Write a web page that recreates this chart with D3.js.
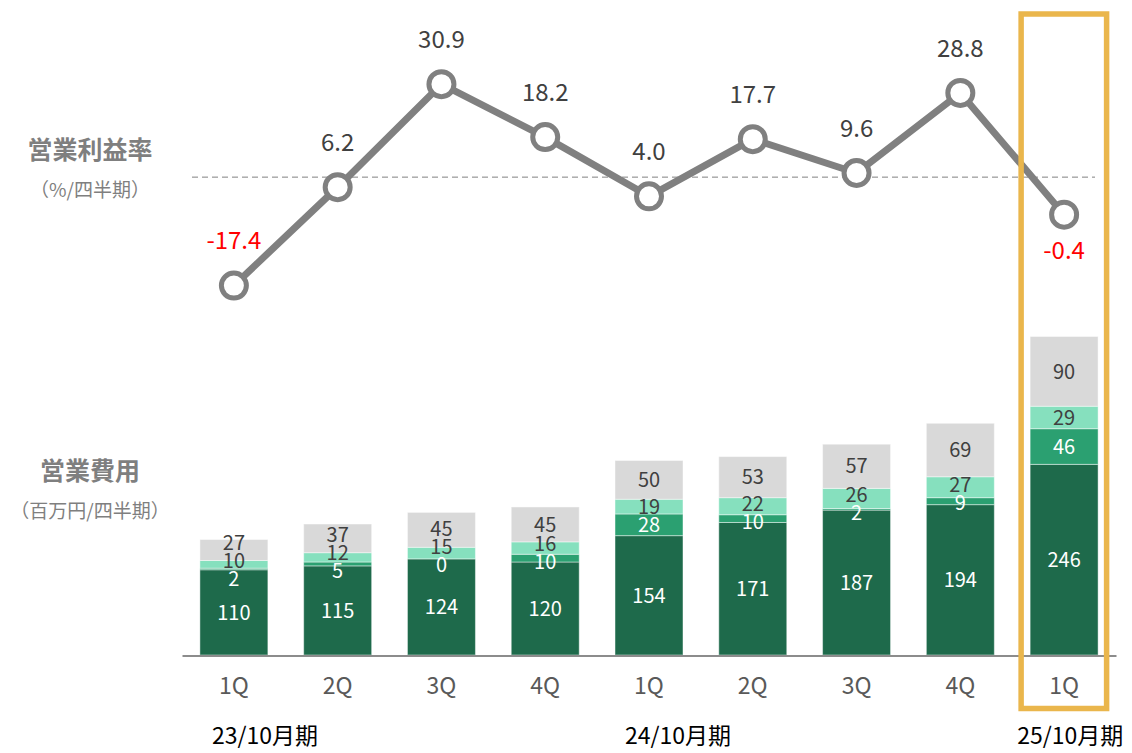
<!DOCTYPE html>
<html>
<head>
<meta charset="utf-8">
<script src="https://cdn.jsdelivr.net/npm/d3@7"></script>
<style>
  html, body { margin: 0; padding: 0; background: #ffffff; }
  svg { display: block; }
  text { font-family: "Noto Sans CJK JP", "Noto Sans", sans-serif; }
</style>
</head>
<body>
<svg id="chart" width="1132" height="753"></svg>
<script>
// ---- data ----
const quarters = ["1Q", "2Q", "3Q", "4Q", "1Q", "2Q", "3Q", "4Q", "1Q"];
const fiscalYears = ["23/10月期", "24/10月期", "25/10月期"];
const fiscalYearAt = [0.3, 4.28, 8.06]; // band index where each fiscal-year label sits
const margin = [-17.4, 6.2, 30.9, 18.2, 4.0, 17.7, 9.6, 28.8, -0.4];
const refLine = 8.6;
const costA = [110, 115, 124, 120, 154, 171, 187, 194, 246]; // dark green
const costB = [2, 5, 0, 10, 28, 10, 2, 9, 46];                // mid green
const costC = [10, 12, 15, 16, 19, 22, 26, 27, 29];           // mint
const costD = [27, 37, 45, 45, 50, 53, 57, 69, 90];           // grey
const highlightIndex = 8;

// ---- styles ----
const segColors = ["#1E6A4B", "#2BA071", "#86E0BE", "#D9D9D9"];
const segText = ["#ffffff", "#ffffff", "#404040", "#404040"];

const svg = d3.select("#chart");
const idx = d3.range(quarters.length);

const x = d3.scaleBand().domain(idx).range([182, 1116]).paddingInner(0.345).paddingOuter(0.1725);
const cx = i => x(i) + x.bandwidth() / 2;

const yBar = d3.scaleLinear().domain([0, 450]).range([655, 306.25]);
const yLine = d3.scaleLinear().domain([-20, 35]).range([296.4, 67.05]);

// ---- stacked bars ----
const series = [costA, costB, costC, costD];
const rows = idx.map(i => ({ i, a: costA[i], b: costB[i], c: costC[i], d: costD[i] }));
const stack = d3.stack().keys(["a", "b", "c", "d"])(rows);

const gBars = svg.append("g");
stack.forEach((layer, k) => {
  gBars.selectAll(null).data(layer).enter().append("rect")
    .attr("x", d => x(d.data.i))
    .attr("width", x.bandwidth())
    .attr("y", d => yBar(d[1]))
    .attr("height", d => Math.max(0, yBar(d[0]) - yBar(d[1])))
    .attr("fill", segColors[k])
    .attr("stroke", "#ffffff")
    .attr("stroke-opacity", 0.45)
    .attr("stroke-width", 1);
});

// bar labels with simple collision relaxation
const gLab = svg.append("g");
idx.forEach(i => {
  const ys = stack.map(layer => (yBar(layer[i][0]) + yBar(layer[i][1])) / 2);
  const gap = 18;
  for (let it = 0; it < 40; it++) {
    for (let k = 1; k < ys.length - 1; k++) {
      const d = ys[k] - ys[k + 1];
      if (d < gap) { const p = (gap - d) / 2; ys[k] += p; ys[k + 1] -= p; }
    }
    const d0 = ys[0] - ys[1];
    if (d0 < gap) { ys[1] = ys[0] - gap; }
  }
  stack.forEach((layer, k) => {
    gLab.append("text")
      .attr("x", cx(i))
      .attr("y", ys[k])
      .attr("dy", "0.36em")
      .attr("text-anchor", "middle")
      .attr("font-size", 20)
      .attr("fill", segText[k])
      .text(series[k][i]);
  });
});

// axis baseline
const xAxis = d3.axisBottom(x).tickSize(0).tickPadding(22).tickFormat(i => quarters[i]);
const gAxis = svg.append("g").attr("transform", "translate(0,655.5)").call(xAxis);
gAxis.select(".domain").attr("stroke", "#8C8C8C").attr("stroke-width", 2);
gAxis.selectAll(".tick text")
  .attr("font-family", "\"Noto Sans CJK JP\", sans-serif")
  .attr("font-size", 23)
  .attr("fill", "#595959");

// fiscal-year labels
svg.append("g").selectAll("text").data(fiscalYears).enter().append("text")
  .attr("x", (d, j) => x(0) + x.step() * fiscalYearAt[j] + x.bandwidth() / 2)
  .attr("y", 744)
  .attr("text-anchor", "middle")
  .attr("font-size", 23)
  .attr("fill", "#000000")
  .text(d => d);

// dashed reference line
svg.append("line")
  .attr("x1", 192).attr("x2", 1095)
  .attr("y1", yLine(refLine)).attr("y2", yLine(refLine))
  .attr("stroke", "#808080").attr("stroke-width", 1)
  .attr("stroke-dasharray", "6,4");

// margin line
const line = d3.line().x((d, i) => cx(i)).y(d => yLine(d));
svg.append("path").datum(margin)
  .attr("d", line)
  .attr("fill", "none")
  .attr("stroke", "#808080")
  .attr("stroke-width", 7)
  .attr("stroke-linejoin", "round");

svg.append("g").selectAll("circle").data(margin).enter().append("circle")
  .attr("cx", (d, i) => cx(i))
  .attr("cy", d => yLine(d))
  .attr("r", 12.5)
  .attr("fill", "#ffffff")
  .attr("stroke", "#808080")
  .attr("stroke-width", 5);

svg.append("g").selectAll("text").data(margin).enter().append("text")
  .attr("x", (d, i) => cx(i))
  .attr("y", (d, i) => yLine(d) + (i === margin.length - 1 ? 36 : -45))
  .attr("dy", "0.36em")
  .attr("text-anchor", "middle")
  .attr("font-size", 24)
  .attr("fill", d => d < 0 ? "#FF0000" : "#404040")
  .text(d => d.toFixed(1));

// highlight box
svg.append("rect")
  .attr("x", x(highlightIndex) - 9)
  .attr("y", 14)
  .attr("width", x.bandwidth() + 17.5)
  .attr("height", 694.5)
  .attr("fill", "none")
  .attr("stroke", "#EAB64C")
  .attr("stroke-width", 5.5);

// left titles
const titles = [
  { t: "営業利益率", y: 150, size: 25, w: 700 },
  { t: "（%/四半期）", y: 190, size: 19, w: 400 },
  { t: "営業費用", y: 471, size: 25, w: 700 },
  { t: "（百万円/四半期）", y: 511, size: 19, w: 400 }
];
svg.append("g").selectAll("text").data(titles).enter().append("text")
  .attr("x", 90)
  .attr("y", d => d.y)
  .attr("dy", "0.36em")
  .attr("text-anchor", "middle")
  .attr("font-size", d => d.size)
  .attr("font-weight", d => d.w)
  .attr("fill", "#7F7F7F")
  .text(d => d.t);
</script>
</body>
</html>
